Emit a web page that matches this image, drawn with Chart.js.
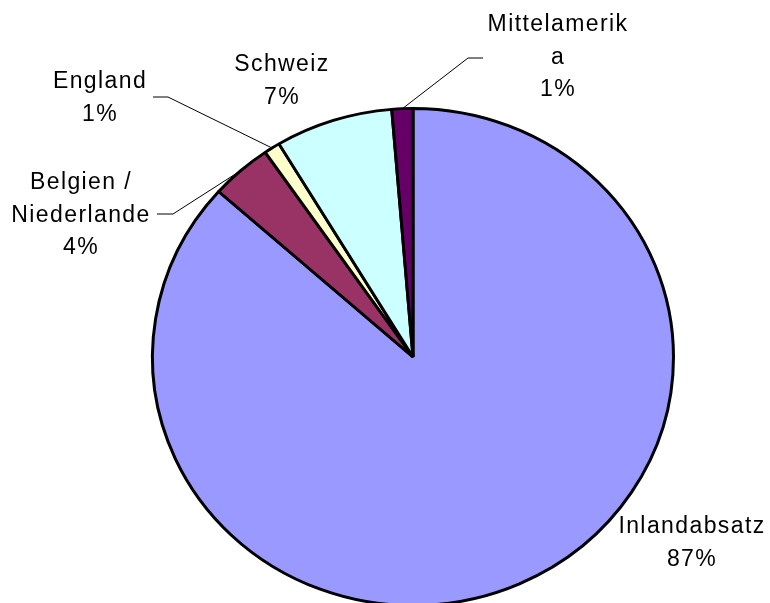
<!DOCTYPE html>
<html>
<head>
<meta charset="utf-8">
<script src="https://cdn.jsdelivr.net/npm/chart.js@4"></script>
<style>
  html, body { margin: 0; padding: 0; background: #fff; overflow: hidden; }
  #wrap { width: 770px; height: 700px; }
</style>
</head>
<body>
<div id="wrap"><canvas id="pie"></canvas></div>
<script>
// Absatz nach Regionen (Anteile in %)
const regions = ['Inlandabsatz', 'Belgien / Niederlande', 'England', 'Schweiz', 'Mittelamerika'];
const shares = [86.6, 3.8, 1.0, 7.3, 1.3];
const labelLines = [['Inlandabsatz'], ['Belgien /', 'Niederlande'], ['England'], ['Schweiz'], ['Mittelamerik', 'a']];

const sliceColors = ['#9999FF', '#993366', '#FFFFCC', '#CCFFFF', '#660066'];

// label block centre (first line) relative to pie centre, plus optional leader line
const labelSpots = [
    { dx: 279, dy: 170 },
    { dx: -332, dy: -174, elbow: [-240, -143], end: [-256, -143] },
    { dx: -313, dy: -275, elbow: [-245, -260], end: [-260, -260] },
    { dx: -131, dy: -292 },
    { dx: 145, dy: -332, elbow: [55, -299], end: [70, -299] }
];

const squash = 249 / 261; // pie is drawn slightly flattened

const ellipse = {
    id: 'ellipse',
    beforeDatasetsDraw(chart) {
        const arc = chart.getDatasetMeta(0).data[0];
        const ctx = chart.ctx;
        ctx.save();
        ctx.translate(arc.x, arc.y);
        ctx.scale(1, squash);
        ctx.translate(-arc.x, -arc.y);
    },
    afterDatasetsDraw(chart) {
        chart.ctx.restore();
    }
};

const outsideLabels = {
    id: 'outsideLabels',
    afterDraw(chart) {
        const ctx = chart.ctx;
        const arcs = chart.getDatasetMeta(0).data;
        const total = shares.reduce((a, b) => a + b, 0);
        ctx.save();
        ctx.font = '23px "Liberation Sans", Arial, sans-serif';
        ctx.letterSpacing = '1.4px';
        ctx.fillStyle = '#000';
        ctx.textAlign = 'center';
        ctx.textBaseline = 'middle';
        arcs.forEach((arc, i) => {
            const cx = arc.x, cy = arc.y;
            const spot = labelSpots[i];
            if (spot.elbow) {
                const mid = (arc.startAngle + arc.endAngle) / 2;
                const r = arc.outerRadius;
                const px = cx + Math.cos(mid) * r;
                const py = cy + Math.sin(mid) * r * squash;
                ctx.beginPath();
                ctx.strokeStyle = '#000';
                ctx.lineWidth = 1;
                ctx.moveTo(px, py);
                ctx.lineTo(cx + spot.elbow[0], cy + spot.elbow[1]);
                ctx.lineTo(cx + spot.end[0], cy + spot.end[1]);
                ctx.stroke();
            }
            const lines = labelLines[i].concat([Math.round(shares[i] / total * 100) + '%']);
            lines.forEach((t, k) => {
                ctx.fillText(t, cx + spot.dx, cy + spot.dy + k * 32.5);
            });
        });
        ctx.restore();
    }
};

new Chart(document.getElementById('pie').getContext('2d'), {
    type: 'pie',
    data: {
        labels: regions,
        datasets: [{
            data: shares,
            backgroundColor: sliceColors,
            borderColor: '#000',
            borderWidth: 3
        }]
    },
    options: {
        responsive: true,
        maintainAspectRatio: false,
        animation: false,
        events: [],
        layout: { padding: { left: 151, right: 95, top: 95, bottom: 81 } },
        plugins: {
            legend: { display: false },
            tooltip: { enabled: false }
        }
    },
    plugins: [ellipse, outsideLabels]
});
</script>
</body>
</html>
